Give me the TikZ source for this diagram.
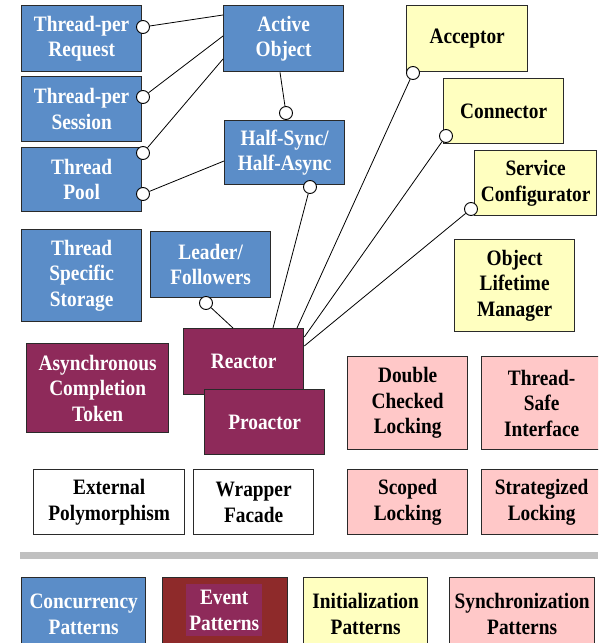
\documentclass[tikz,border=0pt]{standalone}
\usepackage{fontspec}
\setmainfont{Liberation Serif}[FakeStretch=0.88]
\usetikzlibrary{calc}

\definecolor{cblue}{HTML}{5B8DC8}
\definecolor{cmaroon}{HTML}{8E2A5A}
\definecolor{cyellow}{HTML}{FFFFC0}
\definecolor{cpink}{HTML}{FFC8C8}
\definecolor{cbrick}{HTML}{8E2A2A}
\definecolor{cbar}{HTML}{C0C0C0}
\definecolor{cedge}{HTML}{2A2A2A}

% pattern box: name, left, top, right, bottom, style, text
\newcommand\patbox[7]{%
  \node[patbox,#6,anchor=north west,
        minimum width={(#4-#2)*1pt},minimum height={(#5-#3)*1pt}]
        (#1) at (#2,#3) {#7};}

\tikzset{
  patbox/.style={draw=cedge, line width=1.3pt, inner sep=0pt, align=center},
  conc/.style={fill=cblue, text=white},
  evnt/.style={fill=cmaroon, text=white},
  init/.style={fill=cyellow, text=black},
  sync/.style={fill=cpink, text=black},
  misc/.style={fill=white, text=black},
  lolli/.style={circle, draw=black, fill=white, line width=0.9pt,
                minimum size=13pt, inner sep=0pt},
  link/.style={draw=black, line width=0.8pt},
}

\begin{document}
\begin{tikzpicture}[x=1pt, y=-1pt,
  font=\bfseries\fontsize{22}{25.5}\selectfont]
\useasboundingbox (0,0) rectangle (598,643);
\clip (0,0) rectangle (598,643);

% concurrency patterns
\patbox{tpr}{21}{5}{141}{71}{conc}{Thread-per\\Request}
\patbox{tps}{21}{76}{141}{141}{conc}{Thread-per\\Session}
\patbox{tp}{21}{147}{141}{211}{conc}{Thread\\Pool}
\patbox{ao}{223}{5}{343}{71}{conc}{Active\\Object}
\patbox{hs}{224}{120}{344}{184}{conc}{Half-Sync/\\Half-Async}
\patbox{tss}{21}{229}{141}{321}{conc}{Thread\\Specific\\Storage}
\patbox{lf}{150}{231}{270}{297}{conc}{Leader/\\Followers}

% event patterns
\patbox{act}{26}{343}{168}{432}{evnt}{Asynchronous\\Completion\\Token}
\patbox{re}{183}{328}{303}{394}{evnt}{Reactor}
\patbox{pr}{204}{389}{324}{454}{evnt}{Proactor}

% initialization patterns
\patbox{acc}{406}{5}{527}{71}{init}{Acceptor}
\patbox{cn}{443}{78}{563}{143}{init}{Connector}
\patbox{sc}{474}{150}{596}{215}{init}{Service\\Configurator}
\patbox{olm}{454}{239}{574}{331}{init}{Object\\Lifetime\\Manager}

% synchronization patterns
\patbox{dcl}{347}{356}{467}{449}{sync}{Double\\Checked\\Locking}
\patbox{tsi}{481}{356}{601}{449}{sync}{Thread-\\Safe\\Interface}
\patbox{scl}{347}{469}{467}{534}{sync}{Scoped\\Locking}
\patbox{stl}{481}{469}{601}{534}{sync}{Strategized\\Locking}

% other patterns
\patbox{ep}{33}{469}{184}{534}{misc}{External\\Polymorphism}
\patbox{wf}{193}{469}{313}{534}{misc}{Wrapper\\Facade}

% separator
\fill[cbar] (20,552) rectangle (598,559);

% legend
\patbox{lgc}{21}{577}{145}{650}{conc}{Concurrency\\Patterns}
\patbox{lge}{162}{577}{287}{650}{fill=cbrick}{}
\node[fill=cmaroon, text=white, inner sep=0pt, align=center,
      anchor=north west, minimum width=76pt, minimum height=52pt]
      (lgetext) at (186,584) {Event\\Patterns};
\patbox{lgi}{303}{577}{427}{650}{init}{Initialization\\Patterns}
\patbox{lgs}{449}{577}{594}{650}{sync}{Synchronization\\Patterns}

% lollipop ends
\node[lolli] (tprc) at (143,27) {};
\node[lolli] (tpsc) at (143,97) {};
\node[lolli] (tptc) at (143,153) {};
\node[lolli] (tpbc) at (143,194) {};
\node[lolli] (aoc) at (286,113) {};
\node[lolli] (hsc) at (310,187) {};
\node[lolli] (accc) at (413,73) {};
\node[lolli] (cnc) at (446,136) {};
\node[lolli] (scc) at (471,209) {};
\node[lolli] (lfc) at (206,303) {};

% connectors
\draw[link] (tprc) -- ([yshift=-10pt]ao.north west);
\draw[link] (tpsc) -- ([yshift=-31pt]ao.north west);
\draw[link] (tptc) -- ([yshift=-54pt]ao.north west);
\draw[link] (tpbc) -- ([yshift=-41pt]hs.north west);
\draw[link] ([xshift=57pt]ao.south west) -- (aoc);
\draw[link] (hsc) -- ([xshift=90pt]re.north west);
\draw[link] (accc) -- ([xshift=114pt]re.north west);
\draw[link] (cnc) -- ([yshift=-9pt]re.north east);
\draw[link] (scc) -- ([yshift=-18pt]re.north east);
\draw[link] (lfc) -- ([xshift=50pt]re.north west);
\end{tikzpicture}
\end{document}
